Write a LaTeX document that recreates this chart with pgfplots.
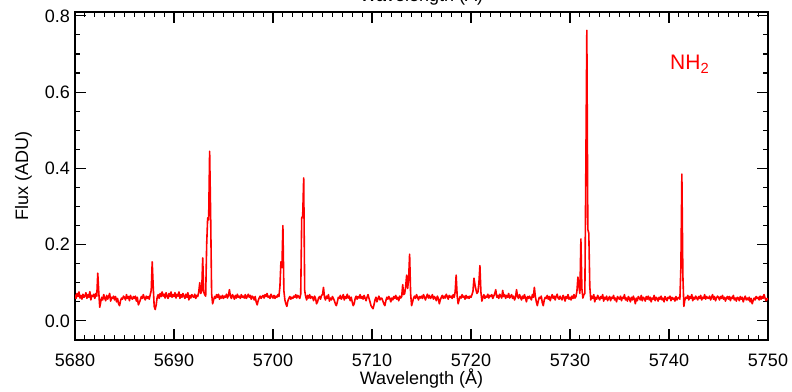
\documentclass[border=0pt]{standalone}
\usepackage{fontspec}
\setmainfont{Liberation Sans}
\usepackage{pgfplots}
\pgfplotsset{compat=1.18}
\begin{document}
\begin{tikzpicture}[x=1pt,y=1pt]
\path[use as bounding box] (0,0) rectangle (792,391);
\begin{axis}[
  at={(75pt,51pt)}, anchor=south west,
  scale only axis, width=693pt, height=328pt,
  xmin=5680, xmax=5750, ymin=-0.05, ymax=0.81,
  xtick={5680,5690,...,5750}, minor x tick num=9,
  ytick={0,0.2,0.4,0.6,0.8}, minor y tick num=3,
  tick align=inside,
  major tick length=11pt, minor tick length=5pt,
  axis line style={line width=1.3pt},
  every tick/.style={black, line width=1.1pt},
  /pgf/number format/assume math mode=true,
  font=\fontsize{18}{20}\selectfont,
  xticklabel style={anchor=base, inner sep=0pt, yshift=-26pt, /pgf/number format/1000 sep={}},
  yticklabel style={anchor=east, inner sep=0pt, xshift=-5pt, /pgf/number format/.cd, fixed, fixed zerofill, precision=1},
  scaled y ticks=false,
  xlabel={Wavelength (Å)},
  ylabel={Flux (ADU)},
  title={Wavelength (Å)},
  xlabel style={at={(axis description cs:0.5,0)}, anchor=base, inner sep=0pt, yshift=-44pt},
  ylabel style={at={(axis description cs:-0.0678,0.5)}, anchor=base, inner sep=0pt},
  title style={at={(axis description cs:0.5,1)}, anchor=base, inner sep=0pt, yshift=4pt},
]
\addplot[red, line width=1.6pt, line join=round] coordinates {
(5680.0,.069)(5680.1,.059)(5680.2,.072)(5680.3,.064)(5680.4,.076)(5680.5,.060)(5680.6,.067)(5680.7,.057)(5680.8,.070)(5680.9,.062)
(5681.0,.065)(5681.1,.074)(5681.2,.059)(5681.3,.069)(5681.4,.062)(5681.5,.077)(5681.6,.055)(5681.7,.067)(5681.8,.064)(5681.9,.070)
(5682.0,.059)(5682.1,.072)(5682.2,.065)(5682.3,.125)(5682.4,.076)(5682.5,.036)(5682.6,.050)(5682.7,.062)(5682.8,.055)(5682.9,.069)
(5683.0,.060)(5683.1,.053)(5683.2,.067)(5683.3,.057)(5683.4,.064)(5683.5,.072)(5683.6,.052)(5683.7,.062)(5683.8,.059)(5683.9,.065)
(5684.0,.055)(5684.1,.064)(5684.2,.050)(5684.3,.059)(5684.4,.045)(5684.5,.040)(5684.6,.053)(5684.7,.060)(5684.8,.057)(5684.9,.065)
(5685.0,.062)(5685.1,.055)(5685.2,.069)(5685.3,.059)(5685.4,.064)(5685.5,.053)(5685.6,.067)(5685.7,.060)(5685.8,.057)(5685.9,.064)
(5686.0,.059)(5686.1,.065)(5686.2,.052)(5686.3,.062)(5686.4,.042)(5686.5,.048)(5686.6,.055)(5686.7,.064)(5686.8,.059)(5686.9,.069)
(5687.0,.060)(5687.1,.055)(5687.2,.065)(5687.3,.059)(5687.4,.064)(5687.5,.057)(5687.6,.069)(5687.7,.080)(5687.8,.155)(5687.9,.090)
(5688.0,.038)(5688.1,.030)(5688.2,.042)(5688.3,.062)(5688.4,.069)(5688.5,.059)(5688.6,.072)(5688.7,.064)(5688.8,.076)(5688.9,.065)
(5689.0,.070)(5689.1,.060)(5689.2,.074)(5689.3,.065)(5689.4,.059)(5689.5,.072)(5689.6,.064)(5689.7,.076)(5689.8,.062)(5689.9,.069)
(5690.0,.064)(5690.1,.074)(5690.2,.060)(5690.3,.070)(5690.4,.065)(5690.5,.076)(5690.6,.059)(5690.7,.069)(5690.8,.062)(5690.9,.072)
(5691.0,.065)(5691.1,.059)(5691.2,.070)(5691.3,.062)(5691.4,.074)(5691.5,.055)(5691.6,.067)(5691.7,.060)(5691.8,.069)(5691.9,.064)
(5692.0,.062)(5692.1,.070)(5692.2,.059)(5692.3,.067)(5692.4,.064)(5692.5,.076)(5692.6,.100)(5692.7,.072)(5692.8,.079)(5692.9,.165)
(5693.0,.076)(5693.1,.069)(5693.2,.065)(5693.3,.200)(5693.4,.270)(5693.5,.265)(5693.6,.445)(5693.7,.280)(5693.8,.072)(5693.9,.045)
(5694.0,.055)(5694.1,.064)(5694.2,.059)(5694.3,.069)(5694.4,.062)(5694.5,.070)(5694.6,.057)(5694.7,.065)(5694.8,.060)(5694.9,.067)
(5695.0,.059)(5695.1,.065)(5695.2,.062)(5695.3,.070)(5695.4,.060)(5695.5,.067)(5695.6,.082)(5695.7,.064)(5695.8,.059)(5695.9,.069)
(5696.0,.064)(5696.1,.057)(5696.2,.067)(5696.3,.060)(5696.4,.070)(5696.5,.062)(5696.6,.065)(5696.7,.059)(5696.8,.069)(5696.9,.062)
(5697.0,.065)(5697.1,.060)(5697.2,.069)(5697.3,.059)(5697.4,.064)(5697.5,.070)(5697.6,.062)(5697.7,.067)(5697.8,.057)(5697.9,.065)
(5698.0,.062)(5698.1,.055)(5698.2,.064)(5698.3,.050)(5698.4,.042)(5698.5,.053)(5698.6,.060)(5698.7,.065)(5698.8,.059)(5698.9,.064)
(5699.0,.067)(5699.1,.060)(5699.2,.069)(5699.3,.064)(5699.4,.072)(5699.5,.062)(5699.6,.065)(5699.7,.059)(5699.8,.070)(5699.9,.064)
(5700.0,.060)(5700.1,.067)(5700.2,.059)(5700.3,.065)(5700.4,.062)(5700.5,.069)(5700.6,.064)(5700.7,.090)(5700.8,.155)(5700.9,.140)
(5701.0,.250)(5701.1,.079)(5701.2,.055)(5701.3,.045)(5701.4,.038)(5701.5,.052)(5701.6,.059)(5701.7,.064)(5701.8,.057)(5701.9,.062)
(5702.0,.059)(5702.1,.065)(5702.2,.062)(5702.3,.069)(5702.4,.060)(5702.5,.067)(5702.6,.064)(5702.7,.059)(5702.8,.070)(5702.9,.270)
(5703.0,.275)(5703.1,.375)(5703.2,.080)(5703.3,.064)(5703.4,.055)(5703.5,.067)(5703.6,.060)(5703.7,.069)(5703.8,.059)(5703.9,.064)
(5704.0,.062)(5704.1,.053)(5704.2,.065)(5704.3,.059)(5704.4,.045)(5704.5,.050)(5704.6,.060)(5704.7,.064)(5704.8,.057)(5704.9,.067)
(5705.0,.069)(5705.1,.088)(5705.2,.062)(5705.3,.055)(5705.4,.065)(5705.5,.059)(5705.6,.069)(5705.7,.052)(5705.8,.060)(5705.9,.055)
(5706.0,.064)(5706.1,.059)(5706.2,.053)(5706.3,.045)(5706.4,.040)(5706.5,.050)(5706.6,.062)(5706.7,.059)(5706.8,.067)(5706.9,.057)
(5707.0,.062)(5707.1,.069)(5707.2,.055)(5707.3,.064)(5707.4,.059)(5707.5,.070)(5707.6,.060)(5707.7,.065)(5707.8,.053)(5707.9,.062)
(5708.0,.050)(5708.1,.040)(5708.2,.045)(5708.3,.059)(5708.4,.065)(5708.5,.057)(5708.6,.064)(5708.7,.060)(5708.8,.069)(5708.9,.059)
(5709.0,.064)(5709.1,.057)(5709.2,.067)(5709.3,.060)(5709.4,.053)(5709.5,.062)(5709.6,.069)(5709.7,.059)(5709.8,.050)(5709.9,.040)
(5710.0,.036)(5710.1,.032)(5710.2,.042)(5710.3,.055)(5710.4,.062)(5710.5,.050)(5710.6,.059)(5710.7,.065)(5710.8,.055)(5710.9,.060)
(5711.0,.059)(5711.1,.052)(5711.2,.045)(5711.3,.040)(5711.4,.053)(5711.5,.062)(5711.6,.057)(5711.7,.064)(5711.8,.059)(5711.9,.050)
(5712.0,.060)(5712.1,.055)(5712.2,.064)(5712.3,.059)(5712.4,.067)(5712.5,.057)(5712.6,.062)(5712.7,.053)(5712.8,.065)(5712.9,.060)
(5713.0,.064)(5713.1,.095)(5713.2,.069)(5713.3,.072)(5713.4,.090)(5713.5,.120)(5713.6,.085)(5713.7,.110)(5713.8,.175)(5713.9,.072)
(5714.0,.040)(5714.1,.050)(5714.2,.060)(5714.3,.065)(5714.4,.059)(5714.5,.069)(5714.6,.062)(5714.7,.055)(5714.8,.064)(5714.9,.060)
(5715.0,.065)(5715.1,.059)(5715.2,.069)(5715.3,.062)(5715.4,.055)(5715.5,.064)(5715.6,.070)(5715.7,.060)(5715.8,.067)(5715.9,.059)
(5716.0,.062)(5716.1,.069)(5716.2,.057)(5716.3,.064)(5716.4,.060)(5716.5,.053)(5716.6,.065)(5716.7,.059)(5716.8,.045)(5716.9,.055)
(5717.0,.062)(5717.1,.067)(5717.2,.059)(5717.3,.065)(5717.4,.060)(5717.5,.070)(5717.6,.064)(5717.7,.057)(5717.8,.067)(5717.9,.062)
(5718.0,.065)(5718.1,.059)(5718.2,.069)(5718.3,.062)(5718.4,.076)(5718.5,.120)(5718.6,.067)(5718.7,.045)(5718.8,.055)(5718.9,.064)
(5719.0,.060)(5719.1,.069)(5719.2,.062)(5719.3,.065)(5719.4,.057)(5719.5,.067)(5719.6,.060)(5719.7,.064)(5719.8,.059)(5719.9,.065)
(5720.0,.062)(5720.1,.069)(5720.2,.078)(5720.3,.112)(5720.4,.095)(5720.5,.082)(5720.6,.072)(5720.7,.076)(5720.8,.100)(5720.9,.145)
(5721.0,.076)(5721.1,.052)(5721.2,.062)(5721.3,.069)(5721.4,.059)(5721.5,.065)(5721.6,.062)(5721.7,.070)(5721.8,.060)(5721.9,.067)
(5722.0,.064)(5722.1,.069)(5722.2,.059)(5722.3,.065)(5722.4,.072)(5722.5,.082)(5722.6,.062)(5722.7,.067)(5722.8,.059)(5722.9,.070)
(5723.0,.065)(5723.1,.060)(5723.2,.080)(5723.3,.064)(5723.4,.069)(5723.5,.059)(5723.6,.067)(5723.7,.062)(5723.8,.072)(5723.9,.060)
(5724.0,.064)(5724.1,.069)(5724.2,.059)(5724.3,.065)(5724.4,.055)(5724.5,.062)(5724.6,.082)(5724.7,.064)(5724.8,.059)(5724.9,.069)
(5725.0,.062)(5725.1,.055)(5725.2,.065)(5725.3,.059)(5725.4,.069)(5725.5,.060)(5725.6,.050)(5725.7,.064)(5725.8,.059)(5725.9,.065)
(5726.0,.060)(5726.1,.055)(5726.2,.069)(5726.3,.062)(5726.4,.088)(5726.5,.064)(5726.6,.050)(5726.7,.040)(5726.8,.053)(5726.9,.062)
(5727.0,.059)(5727.1,.065)(5727.2,.048)(5727.3,.040)(5727.4,.055)(5727.5,.062)(5727.6,.059)(5727.7,.067)(5727.8,.057)(5727.9,.064)
(5728.0,.053)(5728.1,.062)(5728.2,.069)(5728.3,.059)(5728.4,.065)(5728.5,.055)(5728.6,.064)(5728.7,.070)(5728.8,.060)(5728.9,.057)
(5729.0,.065)(5729.1,.059)(5729.2,.055)(5729.3,.067)(5729.4,.062)(5729.5,.052)(5729.6,.064)(5729.7,.059)(5729.8,.069)(5729.9,.057)
(5730.0,.062)(5730.1,.055)(5730.2,.065)(5730.3,.059)(5730.4,.069)(5730.5,.060)(5730.6,.064)(5730.7,.078)(5730.8,.115)(5730.9,.090)
(5731.0,.072)(5731.1,.215)(5731.2,.085)(5731.3,.060)(5731.4,.069)(5731.5,.072)(5731.6,.400)(5731.7,.762)(5731.8,.240)(5731.9,.230)
(5732.0,.090)(5732.1,.055)(5732.2,.065)(5732.3,.059)(5732.4,.069)(5732.5,.050)(5732.6,.062)(5732.7,.057)(5732.8,.067)(5732.9,.060)
(5733.0,.055)(5733.1,.064)(5733.2,.059)(5733.3,.069)(5733.4,.052)(5733.5,.062)(5733.6,.057)(5733.7,.065)(5733.8,.053)(5733.9,.060)
(5734.0,.064)(5734.1,.053)(5734.2,.062)(5734.3,.059)(5734.4,.067)(5734.5,.055)(5734.6,.060)(5734.7,.050)(5734.8,.064)(5734.9,.059)
(5735.0,.057)(5735.1,.065)(5735.2,.053)(5735.3,.062)(5735.4,.059)(5735.5,.069)(5735.6,.055)(5735.7,.060)(5735.8,.052)(5735.9,.064)
(5736.0,.059)(5736.1,.050)(5736.2,.062)(5736.3,.055)(5736.4,.065)(5736.5,.057)(5736.6,.045)(5736.7,.060)(5736.8,.053)(5736.9,.064)
(5737.0,.060)(5737.1,.055)(5737.2,.067)(5737.3,.053)(5737.4,.062)(5737.5,.059)(5737.6,.052)(5737.7,.064)(5737.8,.057)(5737.9,.065)
(5738.0,.055)(5738.1,.062)(5738.2,.050)(5738.3,.060)(5738.4,.057)(5738.5,.067)(5738.6,.053)(5738.7,.062)(5738.8,.059)(5738.9,.052)
(5739.0,.062)(5739.1,.057)(5739.2,.065)(5739.3,.055)(5739.4,.060)(5739.5,.050)(5739.6,.064)(5739.7,.059)(5739.8,.053)(5739.9,.062)
(5740.0,.059)(5740.1,.065)(5740.2,.053)(5740.3,.062)(5740.4,.057)(5740.5,.060)(5740.6,.052)(5740.7,.064)(5740.8,.055)(5740.9,.060)
(5741.0,.062)(5741.1,.057)(5741.2,.140)(5741.3,.385)(5741.4,.120)(5741.5,.038)(5741.6,.055)(5741.7,.062)(5741.8,.059)(5741.9,.067)
(5742.0,.055)(5742.1,.064)(5742.2,.059)(5742.3,.069)(5742.4,.053)(5742.5,.062)(5742.6,.057)(5742.7,.065)(5742.8,.060)(5742.9,.055)
(5743.0,.064)(5743.1,.059)(5743.2,.067)(5743.3,.055)(5743.4,.062)(5743.5,.059)(5743.6,.069)(5743.7,.057)(5743.8,.064)(5743.9,.060)
(5744.0,.059)(5744.1,.065)(5744.2,.055)(5744.3,.062)(5744.4,.069)(5744.5,.057)(5744.6,.064)(5744.7,.053)(5744.8,.060)(5744.9,.065)
(5745.0,.062)(5745.1,.055)(5745.2,.064)(5745.3,.059)(5745.4,.067)(5745.5,.057)(5745.6,.062)(5745.7,.052)(5745.8,.060)(5745.9,.064)
(5746.0,.057)(5746.1,.064)(5746.2,.053)(5746.3,.062)(5746.4,.059)(5746.5,.067)(5746.6,.055)(5746.7,.060)(5746.8,.052)(5746.9,.062)
(5747.0,.060)(5747.1,.053)(5747.2,.064)(5747.3,.057)(5747.4,.062)(5747.5,.050)(5747.6,.059)(5747.7,.065)(5747.8,.055)(5747.9,.060)
(5748.0,.055)(5748.1,.062)(5748.2,.050)(5748.3,.059)(5748.4,.045)(5748.5,.053)(5748.6,.060)(5748.7,.055)(5748.8,.064)(5748.9,.059)
(5749.0,.062)(5749.1,.055)(5749.2,.065)(5749.3,.057)(5749.4,.064)(5749.5,.059)(5749.6,.069)(5749.7,.060)(5749.8,.053)(5749.9,.059)
(5750.0,.055)
};
\node[red, anchor=base west, inner sep=0pt, font=\fontsize{21}{24}\selectfont] at (axis cs:5740.1,0.658) {NH\textsubscript{2}};
\end{axis}
\end{tikzpicture}
\end{document}
